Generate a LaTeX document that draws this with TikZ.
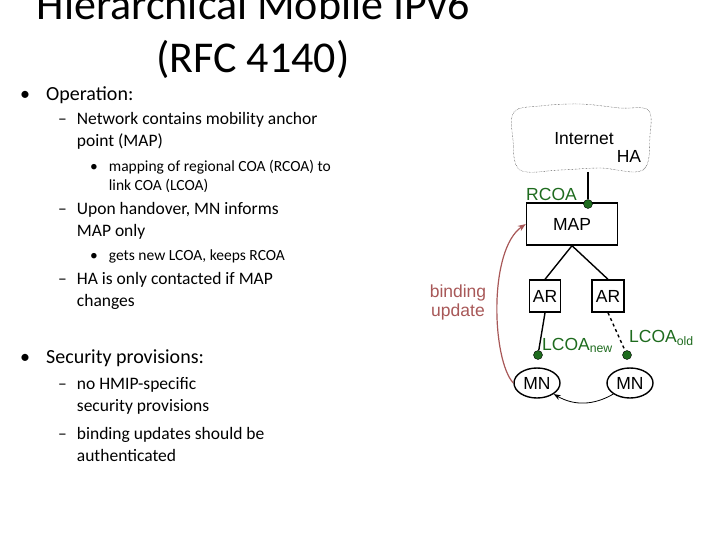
\documentclass[tikz,border=0pt]{standalone}
\usepackage{fontspec}
\setmainfont{Carlito}
\newfontfamily\arialf{Liberation Sans}
\usetikzlibrary{arrows.meta,shapes.geometric}
\definecolor{dg}{HTML}{1E6B1E}
\definecolor{bu}{HTML}{A85858}
\begin{document}
\begin{tikzpicture}[x=1pt,y=-1pt,
  tx/.style={anchor=west,align=left,inner sep=0pt},
  l1/.style={tx,font=\fontsize{20}{22}\selectfont},
  l2/.style={tx,font=\fontsize{17.5}{22}\selectfont},
  l3/.style={tx,font=\fontsize{15.5}{19}\selectfont},
  lw/.style={line width=1.4pt},
  bx/.style={draw,lw,inner sep=0pt,font=\arialf\fontsize{17.5}{18}\selectfont},
  dot/.style={circle,fill=dg,draw=black,inner sep=0pt,minimum size=9pt},
  gl/.style={text=dg,font=\arialf\fontsize{17.5}{18}\selectfont,inner sep=1pt},
  dl/.style={font=\arialf\fontsize{17.5}{18}\selectfont,inner sep=0pt}]
\useasboundingbox (0,0) rectangle (720,540);
% title
\node[font=\fontsize{44}{53}\selectfont,align=center] (title) at (253,34) {Hierarchical Mobile IPv6\\(RFC 4140)};
% text
\node[l1] (b1) at (20,95) {\textbullet\hspace{16pt}Operation:};
\node[l2] (t1) at (58,131) {--\hspace{10pt}\parbox[t]{260pt}{Network contains mobility anchor\\point (MAP)}};
\node[l3] (t2) at (90,176) {\textbullet\hspace{11pt}\parbox[t]{260pt}{mapping of regional COA (RCOA) to\\link COA (LCOA)}};
\node[l2] (t3) at (58,221) {--\hspace{10pt}\parbox[t]{260pt}{Upon handover, MN informs\\MAP only}};
\node[l3] (t4) at (90,256) {\textbullet\hspace{11pt}gets new LCOA, keeps RCOA};
\node[l2] (t5) at (58,291) {--\hspace{10pt}\parbox[t]{260pt}{HA is only contacted if MAP\\changes}};
\node[l1] (b2) at (20,358) {\textbullet\hspace{16pt}Security provisions:};
\node[l2] (t6) at (58,396) {--\hspace{10pt}\parbox[t]{260pt}{no HMIP-specific\\security provisions}};
\node[l2] (t7) at (58,444) {--\hspace{10pt}\parbox[t]{260pt}{binding updates should be\\authenticated}};
% cloud
\draw[densely dotted] plot[smooth cycle,tension=0.6] coordinates {(514,112) (540,106) (580,104) (620,108) (648,110) (650,135) (643,170) (600,168) (560,170) (520,170) (513,140)};
\node[dl] (inet) at (584,139) {Internet};
\node[dl] (ha) at (629,156) {HA};
\node[bx,minimum width=91pt,minimum height=42pt] (map) at (572,224) {MAP};
\node[dot] (rdot) at (588,204) {};
\node[gl,anchor=east] (rcoa) at (578,194) {RCOA};
\coordinate (ctop) at (588,172);
\draw[lw] (ctop) -- (rdot);
\node[bx,minimum width=31pt,minimum height=32pt] (ar1) at (545,296) {AR};
\node[bx,minimum width=32pt,minimum height=32pt] (ar2) at (608,296) {AR};
\draw[lw] (map.south) -- (ar1.north);
\draw[lw] (map.south) -- (ar2.north);
\node[dot] (d1) at (538,355) {};
\node[dot] (d2) at (627,355) {};
\draw[lw] (ar1.south) -- (d1);
\draw[lw,dashed] (ar2.south) -- (d2);
\node[gl,anchor=south west] (ln) at (541,354) {LCOA\textsubscript{new}};
\node[gl,anchor=south west] (lo) at (628,347) {LCOA\textsubscript{old}};
\node[draw,lw,ellipse,minimum width=46pt,minimum height=30pt,inner sep=0pt,dl] (mn1) at (537,383) {MN};
\node[draw,lw,ellipse,minimum width=46pt,minimum height=30pt,inner sep=0pt,dl] (mn2) at (630,383) {MN};
\draw[thick,-{Stealth[length=7pt]}] (mn2.south west) to[bend left=30] (mn1.south east);
\draw[bu,line width=1.2pt,-{Stealth[length=8pt]}] (mn1.west) .. controls (492,360) and (488,250) .. (map.west);
\node[font=\arialf\fontsize{17.5}{19}\selectfont,text=bu,align=center] (bind) at (458,302) {binding\\update};
\end{tikzpicture}
\end{document}
